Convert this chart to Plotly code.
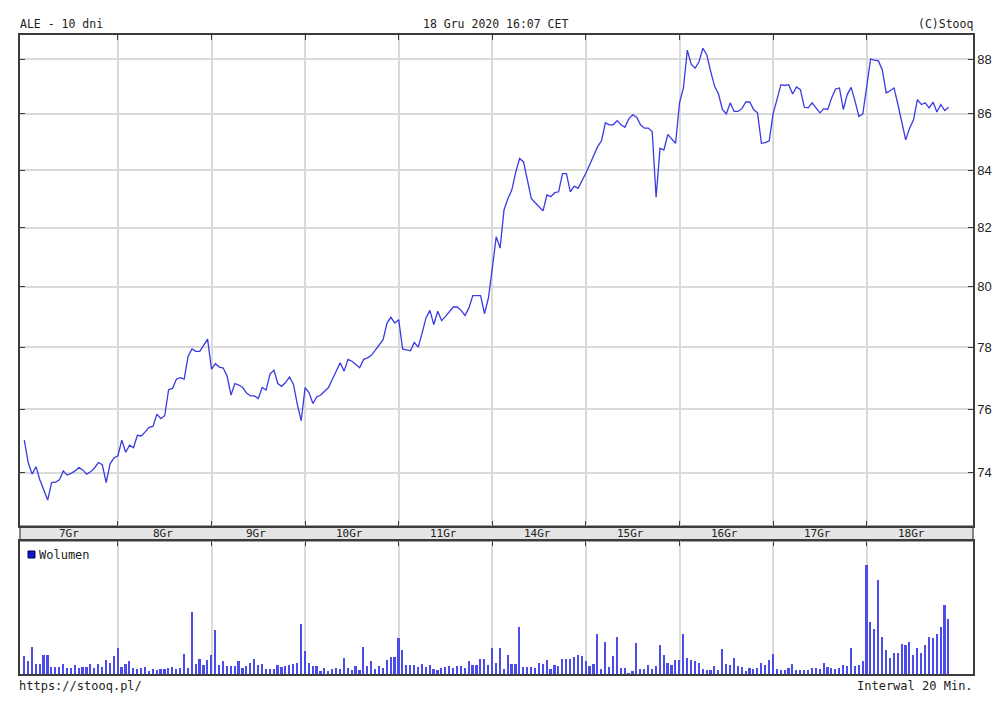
import math
import plotly.graph_objects as go

# ---------------- data ----------------
day_labels = ["7Gr", "8Gr", "9Gr", "10Gr", "11Gr", "14Gr", "15Gr", "16Gr", "17Gr", "18Gr"]
bars_per_day = 24          # 20-minute bars, 9:00-17:00
price_ticks = [74, 76, 78, 80, 82, 84, 86, 88]

close = [
    # 7 Gru
    75.02, 74.32, 73.96, 74.19, 73.78, 73.47, 73.16, 73.70, 73.71, 73.78, 74.06, 73.93,
    73.98, 74.06, 74.16, 74.09, 73.96, 74.03, 74.15, 74.32, 74.25, 73.70, 74.28, 74.46,
    # 8 Gru
    74.53, 75.02, 74.64, 74.86, 74.78, 75.17, 75.15, 75.28, 75.42, 75.45, 75.84, 75.70,
    75.79, 76.62, 76.66, 76.96, 77.01, 76.96, 77.70, 77.94, 77.86, 77.86, 78.04, 78.26,
    # 9 Gru
    77.28, 77.46, 77.35, 77.32, 77.06, 76.45, 76.82, 76.77, 76.69, 76.51, 76.42, 76.42,
    76.34, 76.69, 76.61, 77.12, 77.25, 76.82, 76.73, 76.85, 77.03, 76.80, 76.16, 75.63,
    # 10 Gru
    76.69, 76.53, 76.18, 76.39, 76.45, 76.58, 76.69, 76.96, 77.22, 77.49, 77.22, 77.60,
    77.54, 77.44, 77.33, 77.60, 77.65, 77.73, 77.90, 78.04, 78.24, 78.79, 78.98, 78.79,
    # 11 Gru
    78.90, 77.94, 77.91, 77.88, 78.15, 78.00, 78.46, 78.96, 79.21, 78.74, 79.18, 78.87,
    79.01, 79.18, 79.32, 79.32, 79.21, 79.04, 79.29, 79.70, 79.69, 79.70, 79.10, 79.62,
    # 14 Gru
    80.62, 81.69, 81.30, 82.61, 83.01, 83.30, 83.93, 84.41, 84.29, 83.64, 83.01, 82.86,
    82.72, 82.58, 83.13, 83.07, 83.21, 83.24, 83.88, 83.88, 83.24, 83.44, 83.36, 83.61,
    # 15 Gru
    83.90, 84.20, 84.50, 84.83, 85.04, 85.68, 85.61, 85.61, 85.76, 85.61, 85.52, 85.82,
    85.97, 85.88, 85.61, 85.49, 85.49, 85.37, 83.05, 84.77, 84.71, 85.27, 85.10, 84.95,
    # 16 Gru
    86.40, 86.94, 88.33, 87.81, 87.66, 87.90, 88.40, 88.15, 87.54, 87.00, 86.72, 86.16,
    86.00, 86.40, 86.09, 86.09, 86.19, 86.43, 86.43, 86.16, 86.04, 84.95, 84.97, 85.04,
    # 17 Gru
    86.00, 86.55, 87.06, 87.03, 87.06, 86.72, 86.98, 86.88, 86.24, 86.22, 86.40, 86.22,
    86.04, 86.19, 86.16, 86.58, 86.90, 86.94, 86.16, 86.70, 86.96, 86.46, 85.91, 86.00,
    # 18 Gru
    87.06, 88.00, 87.96, 87.93, 87.60, 86.76, 86.84, 86.94, 86.34, 85.73, 85.07, 85.49,
    85.79, 86.52, 86.34, 86.40, 86.22, 86.43, 86.07, 86.34, 86.12, 86.24,
]

volume = [
    # 7 Gru
    17.7, 12.7, 27.3, 10.3, 10.3, 19.0, 19.0, 6.7, 6.7, 7.0, 10.3, 5.7,
    6.0, 9.0, 6.3, 6.7, 7.0, 10.3, 6.3, 10.0, 6.7, 14.0, 11.3, 17.7,
    # 8 Gru
    26.3, 6.7, 10.3, 12.7, 6.3, 5.0, 5.7, 6.7, 3.3, 5.0, 4.3, 5.3,
    5.3, 5.7, 6.7, 4.7, 5.7, 20.0, 5.7, 62.0, 10.0, 15.0, 9.3, 14.3,
    # 9 Gru
    19.0, 43.7, 9.0, 12.7, 7.7, 8.0, 8.0, 12.7, 5.7, 8.0, 11.3, 15.3,
    9.0, 10.0, 4.7, 5.0, 4.7, 9.0, 7.3, 7.7, 9.0, 10.3, 11.3, 49.7,
    # 10 Gru
    22.7, 11.3, 7.7, 8.0, 3.3, 6.3, 2.7, 4.7, 6.3, 5.0, 16.3, 6.3,
    4.0, 7.7, 4.3, 27.3, 8.0, 12.7, 4.7, 8.0, 5.7, 14.3, 17.3, 16.7,
    # 11 Gru
    36.3, 24.0, 9.0, 8.7, 9.0, 7.3, 10.3, 7.0, 9.0, 5.3, 4.3, 6.3,
    7.3, 8.3, 6.3, 8.3, 8.3, 6.3, 12.7, 9.0, 9.0, 14.7, 15.3, 9.0,
    # 14 Gru
    26.3, 11.3, 26.3, 5.3, 19.0, 10.3, 10.3, 47.0, 6.7, 6.7, 6.7, 5.7,
    11.3, 10.3, 14.0, 5.3, 9.0, 8.0, 15.3, 15.3, 15.3, 16.7, 19.0, 17.7,
    # 15 Gru
    12.7, 8.0, 10.3, 39.7, 5.3, 32.3, 6.7, 17.7, 37.3, 6.3, 5.7, 1.0,
    2.7, 31.3, 5.3, 5.3, 9.0, 5.3, 8.0, 28.7, 19.0, 11.3, 9.0, 14.0,
    # 16 Gru
    14.0, 39.7, 16.3, 14.0, 12.7, 11.3, 5.3, 4.0, 4.0, 7.7, 4.0, 25.0,
    10.3, 9.0, 16.3, 7.7, 6.7, 2.7, 6.3, 4.7, 6.3, 11.3, 9.3, 14.0,
    # 17 Gru
    20.0, 5.3, 4.3, 4.3, 5.7, 10.3, 4.0, 4.0, 4.0, 4.0, 6.3, 5.7,
    5.3, 11.3, 6.7, 6.3, 4.7, 5.7, 9.0, 7.7, 26.3, 8.0, 9.0, 12.7,
    # 18 Gru
    109.0, 52.3, 45.0, 94.0, 37.3, 24.0, 16.3, 21.3, 21.3, 30.0, 28.7, 32.3,
    19.0, 26.3, 21.3, 28.7, 37.3, 36.3, 39.7, 47.0, 69.3, 54.7,
]

# ---------------- figure ----------------
x = list(range(len(close)))
day_starts = [bars_per_day * k for k in range(1, len(day_labels))]
day_centers = [bars_per_day * k + (bars_per_day - 1) / 2 for k in range(len(day_labels))]
x_range = [-1.1, 243.25]

OFF = 8                       # page body margin of the html page
W, H = 992, 687               # figure size
ml, mr, mt, mb = 20 - OFF, 27, 35 - OFF, (OFF + H) - 674
plot_h = H - mt - mb
plot_w = W - ml - mr


def py(pix):
    """page pixel y -> paper y"""
    return (OFF + H - mb - pix) / plot_h


def px(pix):
    """page pixel x -> paper x"""
    return (pix - OFF - ml) / plot_w


price_dom = [py(526), 1.0]
vol_dom = [0.0, py(541)]

LINE = "#3a3ae2"
BAR = "#4c4ce8"
GRID = "#dadada"
FRAME = "#3c3c3c"
MONO = "DejaVu Sans Mono"

fig = go.Figure()
fig.add_trace(go.Scatter(
    x=x, y=close, mode="lines", line=dict(color=LINE, width=1.3),
    xaxis="x", yaxis="y", hoverinfo="skip", name="ALE"))
fig.add_trace(go.Bar(
    x=x, y=volume, width=0.42, marker=dict(color=BAR, line=dict(width=0)),
    xaxis="x2", yaxis="y2", hoverinfo="skip", name="Wolumen"))

common_x = dict(range=x_range, tickvals=day_starts, showticklabels=False,
                showgrid=True, gridcolor=GRID, gridwidth=1.6, zeroline=False,
                showline=True, linecolor=FRAME, linewidth=1.5, automargin=False,
                ticks="inside", ticklen=5, tickcolor=FRAME, tickwidth=1.2)

fig.update_layout(
    width=W, height=H,
    margin=dict(l=ml, r=mr, t=mt, b=mb, autoexpand=False),
    paper_bgcolor="white", plot_bgcolor="white",
    showlegend=False, hovermode=False, bargap=0,
    xaxis=dict(domain=[0, 1], anchor="y", mirror="ticks", **common_x),
    yaxis=dict(domain=price_dom, anchor="x", type="log",
               range=[math.log10(72.37), math.log10(88.89)],
               tickvals=price_ticks, ticktext=[str(v) for v in price_ticks],
               side="right", showgrid=True, gridcolor=GRID, gridwidth=1.6,
               zeroline=False, showline=True, linecolor=FRAME, linewidth=1.5,
               mirror="ticks", ticks="inside", ticklen=5, tickcolor=FRAME,
               tickwidth=1.2, automargin=False,
               tickfont=dict(family="Liberation Sans", size=13, color="#222")),
    xaxis2=dict(domain=[0, 1], anchor="y2", side="top", mirror=True, **common_x),
    yaxis2=dict(domain=vol_dom, anchor="x2", range=[0, max(volume) * 1.22],
                showticklabels=False, showgrid=False, zeroline=False,
                showline=True, linecolor=FRAME, linewidth=1.5, mirror=True,
                ticks="", automargin=False),
)

shapes = [
    # date band between the two panels
    dict(type="rect", xref="paper", yref="paper", x0=0, x1=1,
         y0=vol_dom[1], y1=price_dom[0], fillcolor="#e4e4e4",
         line=dict(color=FRAME, width=1.2), layer="below"),
    # legend swatch
    dict(type="rect", xref="paper", yref="paper", x0=px(28), x1=px(35),
         y0=py(558), y1=py(551), fillcolor="#1414c8",
         line=dict(color="#00005a", width=1)),
]
fig.update_layout(shapes=shapes)

ann = []
for lab, c in zip(day_labels, day_centers):
    ann.append(dict(x=c, xref="x", y=py(533.5), yref="paper", text=lab,
                    showarrow=False, xanchor="center", yanchor="middle",
                    font=dict(family=MONO, size=11, color="#222")))

hdr_font = dict(family=MONO, size=11.5, color="#222")
ann += [
    dict(x=0, y=py(24), xref="paper", yref="paper", text="ALE - 10 dni",
         showarrow=False, xanchor="left", yanchor="middle", font=hdr_font,
         xshift=-2),
    dict(x=px(495), y=py(24), xref="paper", yref="paper",
         text="18 Gru 2020 16:07 CET", showarrow=False, xanchor="center",
         yanchor="middle", font=hdr_font),
    dict(x=1, y=py(24), xref="paper", yref="paper", text="(C)Stooq",
         showarrow=False, xanchor="right", yanchor="middle", font=hdr_font,
         xshift=2),
    dict(x=px(37), y=py(554.5), xref="paper", yref="paper", text="Wolumen",
         showarrow=False, xanchor="left", yanchor="middle", xshift=0,
         font=dict(family=MONO, size=12, color="#222")),
    dict(x=0, y=py(686), xref="paper", yref="paper", text="https://stooq.pl/",
         showarrow=False, xanchor="left", yanchor="middle", xshift=-3,
         font=dict(family=MONO, size=12, color="#222")),
    dict(x=1, y=py(686), xref="paper", yref="paper", text="Interwal 20 Min.",
         showarrow=False, xanchor="right", yanchor="middle", xshift=2,
         font=dict(family=MONO, size=12, color="#222")),
]
fig.update_layout(annotations=ann)

fig.write_html("out.html", config={"displayModeBar": False})
